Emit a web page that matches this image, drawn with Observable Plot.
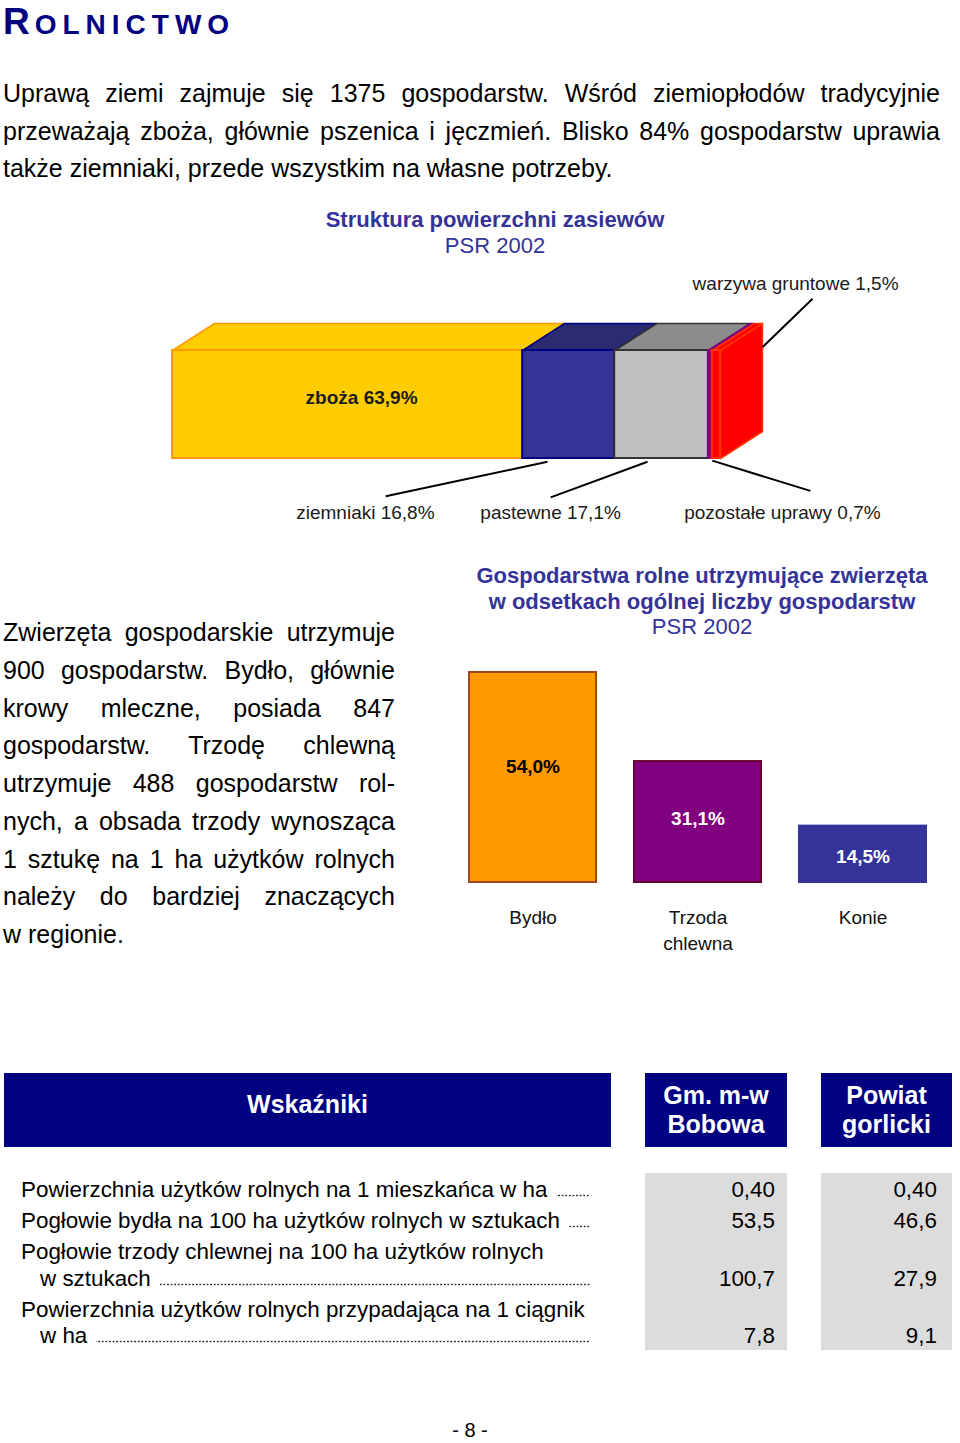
<!DOCTYPE html>
<html><head><meta charset="utf-8">
<script src="https://cdn.jsdelivr.net/npm/d3@7"></script>
<script src="https://cdn.jsdelivr.net/npm/@observablehq/plot@0.6"></script>
<style>
body{margin:0;background:#fff;font-family:"Liberation Sans",Arial,sans-serif;color:#000;}
#page{position:relative;width:960px;height:1443px;overflow:hidden;}
.abs{position:absolute;}
.para{font-size:25px;}
.para div{white-space:nowrap;}
.para div.j{text-align:justify;text-align-last:justify;white-space:normal;}
.ctitle{color:#333399;text-align:center;font-size:22px;}
.hbox{position:absolute;background:#000080;color:#fff;font-weight:bold;font-size:25px;line-height:29px;display:flex;align-items:center;justify-content:center;text-align:center;}
.gbox{position:absolute;background:#dcdcdc;}
.row{position:absolute;font-size:22.4px;line-height:26px;display:flex;white-space:nowrap;}
.dots{flex:1;margin-left:9px;margin-bottom:6px;background-image:radial-gradient(circle,#222 0.85px,transparent 1.15px);background-size:3.6px 3px;background-repeat:repeat-x;background-position:right bottom;}
.val{position:absolute;font-size:22.4px;line-height:26px;text-align:right;white-space:nowrap;}
</style></head>
<body><div id="page">
<div class="abs" style="top:3px;left:3px;color:#000080;font-weight:bold;letter-spacing:6px;line-height:37px;white-space:nowrap"><span style="font-size:37px;letter-spacing:5px">R</span><span style="font-size:28px">OLNICTWO</span></div>

<div class="abs para" style="top:75px;left:3px;width:937px;line-height:37.5px">
<div class="j">Uprawą ziemi zajmuje się 1375 gospodarstw. Wśród ziemiopłodów tradycyjnie</div>
<div class="j">przeważają zboża, głównie pszenica i jęczmień. Blisko 84% gospodarstw uprawia</div>
<div>także ziemniaki, przede wszystkim na własne potrzeby.</div>
</div>

<div class="abs ctitle" style="top:207px;left:195px;width:600px;line-height:26px">
<div style="font-weight:bold">Struktura powierzchni zasiewów</div>
<div>PSR 2002</div>
</div>
<div id="chart1" class="abs" style="top:265px;left:0"></div>

<div class="abs para" style="top:614px;left:3px;width:392px;line-height:37.75px">
<div class="j">Zwierzęta gospodarskie utrzymuje</div>
<div class="j">900 gospodarstw. Bydło, głównie</div>
<div class="j">krowy mleczne, posiada 847</div>
<div class="j">gospodarstw. Trzodę chlewną</div>
<div class="j">utrzymuje 488 gospodarstw rol-</div>
<div class="j">nych, a obsada trzody wynosząca</div>
<div class="j">1 sztukę na 1 ha użytków rolnych</div>
<div class="j">należy do bardziej znaczących</div>
<div>w regionie.</div>
</div>

<div class="abs ctitle" style="top:563px;left:432px;width:540px;line-height:25.5px">
<div style="font-weight:bold">Gospodarstwa rolne utrzymujące zwierzęta</div>
<div style="font-weight:bold">w odsetkach ogólnej liczby gospodarstw</div>
<div>PSR 2002</div>
</div>
<div id="chart2" class="abs" style="top:650px;left:0"></div>

<div id="table"></div>

<div class="abs" style="top:1420px;left:420px;width:100px;text-align:center;font-size:20px;line-height:20px">- 8 -</div>
</div>

<script>
// ---------- DATA ----------
const crops = ["zboża", "ziemniaki", "pastewne", "pozostałe uprawy", "warzywa gruntowe"];
const cropShares = [63.9, 16.8, 17.1, 0.7, 1.5];
const cropLabels = ["zboża 63,9%", "ziemniaki 16,8%", "pastewne 17,1%", "pozostałe uprawy 0,7%", "warzywa gruntowe 1,5%"];

const animals = ["Bydło", "Trzoda\nchlewna", "Konie"];
const animalShares = [54.0, 31.1, 14.5];
const animalLabels = ["54,0%", "31,1%", "14,5%"];

const indicatorHeaders = ["Wskaźniki", "Gm. m-w\nBobowa", "Powiat\ngorlicki"];
const indicatorLines = [
  ["Powierzchnia użytków rolnych na 1 mieszkańca w ha"],
  ["Pogłowie bydła na 100 ha użytków rolnych w sztukach"],
  ["Pogłowie trzody chlewnej na 100 ha użytków rolnych", "w sztukach"],
  ["Powierzchnia użytków rolnych przypadająca na 1 ciągnik", "w ha"]
];
const gminaValues = ["0,40", "53,5", "100,7", "7,8"];
const powiatValues = ["0,40", "46,6", "27,9", "9,1"];

// ---------- STYLES ----------
const FONT = '"Liberation Sans", Arial, sans-serif';
const cropFront = ["#FFCC00", "#333399", "#C0C0C0", "#800080", "#FF0000"];
const cropTop = ["#FFCC00", "#2B2B72", "#8C8C8C", "#800080", "#FF0000"];
const cropEdge = ["#FF9900", "#000080", "#333333", "#800080", "#FF3300"];
const animalFill = ["#FF9900", "#800080", "#333399"];
const animalEdge = ["#A0461E", "#66002E", "#333399"];
const animalText = ["#000", "#fff", "#fff"];

// ---------- CHART 1: 3D stacked bar ----------
const DX = 7.66, DY = 0.25; // depth of the pseudo-3D block (x units, y units)
let acc = 0;
const segs = cropShares.map((v, i) => {
  const s = {i, name: crops[i], x0: acc, x1: acc + v, front: cropFront[i], top: cropTop[i], edge: cropEdge[i]};
  acc += v;
  return s;
});
const topPts = segs.flatMap(s => [
  [s.x0, 1], [s.x1, 1], [s.x1 + DX, 1 + DY], [s.x0 + DX, 1 + DY], [s.x0, 1]
].map(([x, y]) => ({k: s.i, x, y, fill: s.top, edge: s.edge})));
const last = segs[segs.length - 1];
const sidePts = [[last.x1, 0], [last.x1, 1], [last.x1 + DX, 1 + DY], [last.x1 + DX, DY], [last.x1, 0]]
  .map(([x, y]) => ({k: 0, x, y}));

// callouts: start point expressed relative to the segment, end/label in chart units
const seg = i => segs[i];
const callouts = [
  {i: 1, fx: seg(1).x0 + 0.27 * cropShares[1], fy: -0.03, tx: 38.9, ty: -0.35, lx: 35.2, ly: -0.5},
  {i: 2, fx: seg(2).x0 + 0.35 * cropShares[2], fy: -0.03, tx: 69.0, ty: -0.36, lx: 69.0, ly: -0.5},
  {i: 3, fx: seg(3).x1, fy: -0.02, tx: 116.4, ty: -0.3, lx: 111.3, ly: -0.5},
  {i: 4, fx: seg(4).x1 + DX, fy: 1.03, tx: 116.8, ty: 1.48, lx: 113.7, ly: 1.62}
];

const chart1 = Plot.plot({
  width: 960, height: 270, margin: 0,
  x: {domain: [0, 100], range: [172, 720], axis: null},
  y: {domain: [0, 1], range: [193, 85], axis: null},
  style: {fontFamily: FONT, fontSize: "19px", overflow: "visible", background: "transparent"},
  marks: [
    Plot.line(topPts, {x: "x", y: "y", z: "k", fill: "fill", stroke: "edge", strokeWidth: 1.5, strokeLinejoin: "round"}),
    Plot.rect(segs, {x1: "x0", x2: "x1", y1: () => 0, y2: () => 1, fill: "front", stroke: "edge", strokeWidth: 2}),
    Plot.line(sidePts, {x: "x", y: "y", fill: "#FF0000", stroke: "#FF3300", strokeWidth: 1.5, strokeLinejoin: "round"}),
    Plot.text([segs[0]], {x: d => (d.x0 + d.x1) / 2, y: () => 0.565, dx: 14, text: () => cropLabels[0], fontWeight: "bold", fill: "#1a1a1a"}),
    Plot.link(callouts, {x1: "fx", y1: "fy", x2: "tx", y2: "ty", stroke: "#000", strokeWidth: 2}),
    Plot.text(callouts, {x: "lx", y: "ly", text: d => cropLabels[d.i], fill: "#1a1a1a"})
  ]
});
document.getElementById("chart1").appendChild(chart1);

// ---------- CHART 2: bar chart ----------
const animalData = animals.map((a, i) => ({cat: a, v: animalShares[i], label: animalLabels[i], fill: animalFill[i], edge: animalEdge[i], tc: animalText[i]}));
const chart2 = Plot.plot({
  width: 960, height: 310, margin: 0,
  x: {type: "band", domain: animals, range: [449, 945.5], paddingInner: 0.23, paddingOuter: 0.115, axis: null},
  y: {domain: [0, 54], range: [232, 22], axis: null},
  style: {fontFamily: FONT, fontSize: "19px", overflow: "visible", background: "transparent"},
  marks: [
    Plot.barY(animalData, {x: "cat", y: "v", fill: "fill", stroke: "edge", strokeWidth: 2}),
    Plot.text(animalData, {x: "cat", y: d => d.v * 0.586, text: "label", fill: "tc", fontWeight: "bold", dy: 7}),
    Plot.text(animalData, {x: "cat", y: () => 0, text: "cat", lineAnchor: "top", dy: 23, lineHeight: 1.38, fill: "#111"})
  ]
});
document.getElementById("chart2").appendChild(chart2);

// ---------- TABLE ----------
const page = document.getElementById("page");
const headerBoxes = [{l: 4, w: 607, pb: 12}, {l: 645, w: 142, pb: 0}, {l: 821, w: 131, pb: 0}];
indicatorHeaders.forEach((h, i) => {
  const d = document.createElement("div");
  d.className = "hbox";
  const b = headerBoxes[i];
  d.style.cssText = `left:${b.l}px;top:1073px;width:${b.w}px;height:${74 - b.pb}px;padding-bottom:${b.pb}px;`;
  d.innerHTML = h.split("\n").join("<br>");
  page.appendChild(d);
});
[headerBoxes[1], headerBoxes[2]].forEach(b => {
  const g = document.createElement("div");
  g.className = "gbox";
  g.style.cssText = `left:${b.l}px;top:1173px;width:${b.w}px;height:177px;`;
  page.appendChild(g);
});
let y = 1177;
indicatorLines.forEach((lines, r) => {
  lines.forEach((t, k) => {
    const isLast = k === lines.length - 1;
    const d = document.createElement("div");
    d.className = "row";
    const left = k === 0 ? 21 : 40;
    d.style.cssText = `left:${left}px;top:${y}px;width:${590 - left}px;`;
    const s = document.createElement("span");
    s.textContent = t;
    d.appendChild(s);
    if (isLast) {
      const dt = document.createElement("span");
      dt.className = "dots";
      d.appendChild(dt);
      [[gminaValues[r], 775], [powiatValues[r], 937]].forEach(([v, xr]) => {
        const vd = document.createElement("div");
        vd.className = "val";
        vd.style.cssText = `right:${960 - xr}px;top:${y}px;`;
        vd.textContent = v;
        page.appendChild(vd);
      });
    }
    page.appendChild(d);
    if (!isLast) y += 26.5;
  });
  y += 31;
});
</script>
</body></html>
